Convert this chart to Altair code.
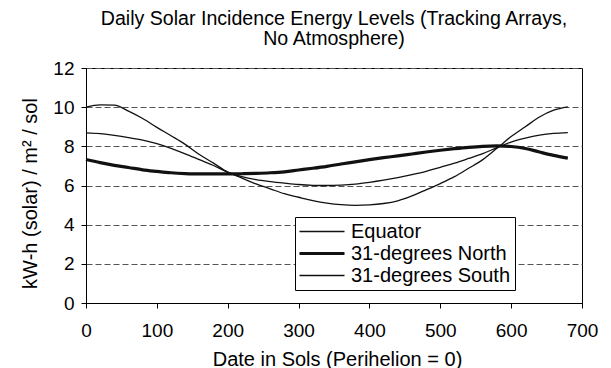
import altair as alt
import pandas as pd

sols = [0, 20, 40, 60, 80, 100, 120, 140, 160, 180, 200, 220, 240, 260, 280, 300, 320, 340,
        360, 380, 400, 420, 440, 460, 480, 500, 520, 540, 560, 580, 600, 620, 640, 660, 680]

equator = [8.69, 8.65, 8.56, 8.45, 8.32, 8.14, 7.90, 7.62, 7.32, 7.02, 6.68, 6.45, 6.30, 6.20,
           6.12, 6.05, 6.01, 6.00, 6.02, 6.07, 6.16, 6.27, 6.40, 6.55, 6.72, 6.93, 7.14, 7.38,
           7.63, 7.93, 8.22, 8.42, 8.57, 8.66, 8.70]

north31 = [7.33, 7.17, 7.03, 6.92, 6.80, 6.72, 6.65, 6.61, 6.59, 6.59, 6.59, 6.60, 6.62, 6.65,
           6.70, 6.79, 6.88, 6.98, 7.10, 7.21, 7.32, 7.42, 7.51, 7.61, 7.71, 7.80, 7.88, 7.95,
           8.00, 8.02, 7.99, 7.89, 7.71, 7.54, 7.40]

south31 = [10.00, 10.12, 10.10, 9.80, 9.42, 8.97, 8.54, 8.10, 7.58, 7.14, 6.68, 6.38, 6.08,
           5.83, 5.58, 5.40, 5.23, 5.10, 5.02, 4.99, 5.01, 5.08, 5.22, 5.47, 5.78, 6.10, 6.45,
           6.88, 7.32, 7.90, 8.50, 9.00, 9.50, 9.85, 10.02]

series_names = ["Equator", "31-degrees North", "31-degrees South"]
series_widths = [1.3, 3.2, 1.3]

rows = []
for name, vals in zip(series_names, [equator, north31, south31]):
    for s, v in zip(sols, vals):
        rows.append({"sol": s, "energy": v, "series": name})
df = pd.DataFrame(rows)

FONT = "Liberation Sans"

legend = alt.Legend(
    title=None, orient="none", legendX=209, legendY=149,
    symbolType="M-4.5,0L4.5,0", symbolSize=100, symbolOffset=12.5,
    symbolStrokeColor="#111111",
    labelFontSize=20, labelOffset=19, labelColor="black",
    labelExpr="datum.label + '\u00a0\u00a0'",
    strokeColor="black", fillColor="white",
    padding=4.5, rowPadding=2,
)

chart = alt.Chart(df).mark_line(color="#111111", interpolate="monotone").encode(
    x=alt.X("sol:Q",
            scale=alt.Scale(domain=[0, 700], nice=False),
            axis=alt.Axis(title="Date in Sols (Perihelion = 0)", values=list(range(0, 701, 100)),
                          grid=False, tickSize=5, labelPadding=13, labelFontSize=19,
                          titleFontSize=20, titleX=251, titleY=62, titleBaseline="alphabetic",
                          labelFlush=False)),
    y=alt.Y("energy:Q",
            scale=alt.Scale(domain=[0, 12], nice=False),
            axis=alt.Axis(title="kW-h (solar) / m² / sol", values=list(range(0, 13, 2)),
                          grid=True, gridDash=[6, 3], gridColor="#555555", gridWidth=1,
                          tickSize=5, labelPadding=7, labelFontSize=19,
                          titleFontSize=20, titleX=-56, titleY=125, titleAngle=270,
                          titleBaseline="middle", titleAlign="center")),
    strokeWidth=alt.StrokeWidth("series:N",
                                scale=alt.Scale(type="ordinal", domain=series_names, range=series_widths),
                                legend=legend),
    detail="series:N",
).properties(
    width=496, height=235,
    title=alt.TitleParams(
        text=["Daily Solar Incidence Energy Levels (Tracking Arrays,", "No Atmosphere)"],
        fontSize=19.6, fontWeight="normal", lineHeight=20, anchor="middle",
        baseline="alphabetic", offset=23, dy=28.5, color="black", font=FONT),
    autosize=alt.AutoSizeParams(type="none"),
    padding={"left": 86, "top": 68, "right": 29, "bottom": 65},
).configure(
    font=FONT,
).configure_view(
    stroke="black", strokeWidth=1,
).configure_axis(
    domainColor="black", tickColor="black", labelColor="black", titleColor="black",
    labelFont=FONT, titleFont=FONT, titleFontWeight="normal",
).configure_legend(
    labelFont=FONT, labelColor="black",
)

chart.save("out.html", embed_options={"renderer": "svg", "actions": False})
